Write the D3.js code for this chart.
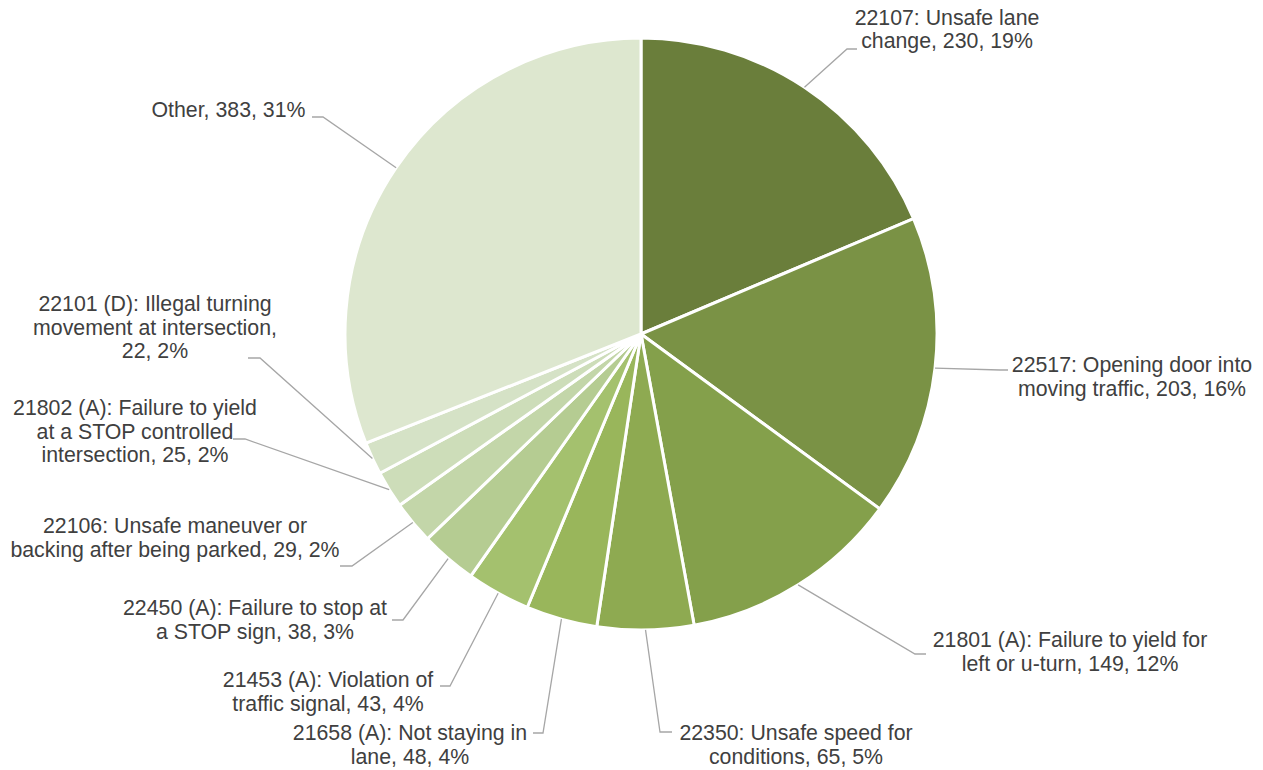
<!DOCTYPE html>
<html>
<head>
<meta charset="utf-8">
<script src="https://cdn.jsdelivr.net/npm/d3@7"></script>
<style>
  body { margin: 0; background: #ffffff; }
  text { font-family: "Liberation Sans", Arial, sans-serif; }
</style>
</head>
<body>
<svg id="chart" width="1263" height="770"></svg>
<script>
// Primary collision factors, counts per violation code
const categories = [
  "22107: Unsafe lane change",
  "22517: Opening door into moving traffic",
  "21801 (A): Failure to yield for left or u-turn",
  "22350: Unsafe speed for conditions",
  "21658 (A): Not staying in lane",
  "21453 (A): Violation of traffic signal",
  "22450 (A): Failure to stop at a STOP sign",
  "22106: Unsafe maneuver or backing after being parked",
  "21802 (A): Failure to yield at a STOP controlled intersection",
  "22101 (D): Illegal turning movement at intersection",
  "Other"
];
const counts = [230, 203, 149, 65, 48, 43, 38, 29, 25, 22, 383];
const shownPercents = [19, 16, 12, 5, 4, 4, 3, 2, 2, 2, 31];

// Slice fills, dark olive to pale sage
const sliceColors = [
  "#6a7e3b", "#7a9245", "#84a04b", "#8eaa51", "#99b65b", "#a4c16e",
  "#b5cc92", "#c3d6a9", "#cdddb9", "#d5e2c6", "#dde7cf"
];

// Words per wrapped label line
const lineWordCounts = [
  [3, 3], [4, 4], [6, 5], [4, 3], [5, 3], [4, 4],
  [6, 5], [4, 6], [5, 4, 3], [4, 3, 2], [3]
];

// Label placement: text centre x and first baseline y
const labelAnchors = [
  [947, 24.5], [1132, 372], [1070, 647], [796, 740], [410, 740], [328, 687],
  [255, 615], [175, 533], [135, 415], [155, 311], [228.5, 117]
];
// Leader line: end point next to the label, and the x where it bends
const leaderEnds = [
  [857, 49, 847], [1008, 370, 1000], [926, 654, 915], [672, 732, 660],
  [533, 733, 543], [440, 686, 450], [392, 620, 403], [340, 566, 352],
  [233, 439, 245], [248, 358, 260], [312, 117, 323]
];

const cx = 641, cy = 334, R = 296;
const fontSize = 21.3, lineHeight = 23.7;

const svg = d3.select("#chart");
const g = svg.append("g").attr("transform", `translate(${cx},${cy})`);

const pie = d3.pie().value(d => d).sort(null);
const arcs = pie(counts);
const arc = d3.arc().innerRadius(0).outerRadius(R);
const rim = d3.arc().innerRadius(R).outerRadius(R);

g.selectAll("path.slice")
  .data(arcs)
  .join("path")
  .attr("class", "slice")
  .attr("d", arc)
  .attr("fill", (d, i) => sliceColors[i])
  .attr("stroke", "#ffffff")
  .attr("stroke-width", 3)
  .attr("stroke-linejoin", "round");

// Leader lines from the slice rim to each label
const leaders = svg.append("g");
arcs.forEach((d, i) => {
  const [sx, sy] = rim.centroid(d);
  const [ex, ey, bx] = leaderEnds[i];
  const pts = [[cx + sx, cy + sy], [bx, ey], [ex, ey]];
  leaders.append("path")
    .attr("d", d3.line()(pts))
    .attr("fill", "none")
    .attr("stroke", "#a6a6a6")
    .attr("stroke-width", 1.3);
});

// Data labels: category, value, percent
const labels = svg.append("g");
arcs.forEach((d, i) => {
  const words = `${categories[i]}, ${counts[i]}, ${shownPercents[i]}%`.split(" ");
  const lines = [];
  let k = 0;
  lineWordCounts[i].forEach(n => {
    lines.push(words.slice(k, k + n).join(" "));
    k += n;
  });
  const [lx, ly] = labelAnchors[i];
  const t = labels.append("text")
    .attr("text-anchor", "middle")
    .attr("font-size", fontSize)
    .attr("fill", "#404040");
  lines.forEach((ln, j) => {
    t.append("tspan").attr("x", lx).attr("y", ly + j * lineHeight).text(ln);
  });
});
</script>
</body>
</html>
